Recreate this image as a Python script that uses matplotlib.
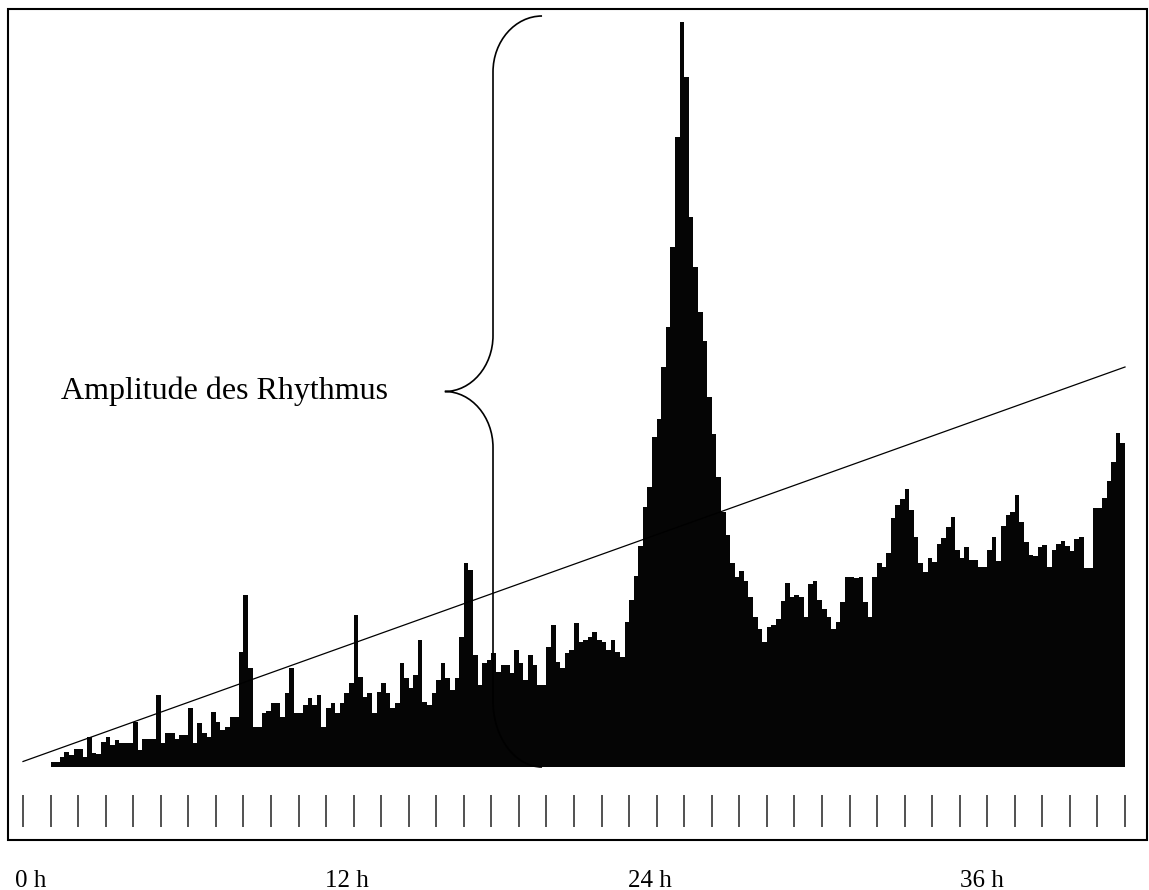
import numpy as np
import matplotlib
matplotlib.use("Agg")
import matplotlib.pyplot as plt
from matplotlib.path import Path
from matplotlib.patches import PathPatch, Rectangle

plt.rcParams['font.family'] = ['Liberation Serif', 'DejaVu Serif']

# Aktivität in 10-Minuten-Intervallen, beginnend bei 1 h
t_start = 1.0
bin_h = 1 / 6
amp = [
    5, 5, 10, 15, 12, 18, 18, 10, 30, 14,
    13, 25, 30, 22, 27, 24, 24, 24, 45, 17,
    28, 28, 28, 72, 24, 34, 34, 28, 32, 32,
    59, 24, 44, 34, 30, 55, 45, 37, 40, 50,
    50, 115, 172, 99, 40, 40, 54, 56, 64, 64,
    50, 74, 99, 54, 54, 62, 69, 62, 72, 40,
    59, 64, 54, 64, 74, 84, 152, 90, 70, 74,
    54, 75, 84, 74, 59, 64, 104, 89, 79, 92,
    127, 65, 62, 74, 87, 104, 89, 77, 89, 130,
    204, 197, 112, 82, 104, 107, 114, 95, 102, 102,
    94, 117, 104, 87, 112, 102, 82, 82, 120, 142,
    105, 99, 114, 117, 144, 125, 127, 130, 135, 127,
    125, 117, 127, 115, 110, 145, 167, 191, 221, 260,
    280, 330, 348, 400, 440, 520, 630, 745, 690, 550,
    500, 455, 426, 370, 333, 290, 255, 232, 204, 190,
    196, 186, 170, 150, 138, 125, 140, 142, 148, 166,
    184, 170, 172, 170, 150, 183, 186, 167, 158, 150,
    138, 145, 165, 190, 190, 189, 190, 165, 150, 190,
    204, 200, 214, 249, 262, 268, 278, 257, 230, 204,
    195, 209, 205, 223, 229, 240, 250, 217, 209, 220,
    207, 207, 200, 200, 217, 230, 206, 241, 252, 255,
    272, 245, 225, 212, 211, 220, 222, 200, 217, 223,
    226, 221, 216, 228, 230, 199, 199, 259, 259, 269,
    286, 305, 334, 324,
]

# Trendlinie (Anfang bei 0 h, Ende bei 40 h)
trend_h = [0, 40]
trend_v = [5.5, 400]

tick_hours = list(range(0, 41))
hour_labels = ['0 h', '12 h', '24 h', '36 h']
label_px = [15, 325, 628, 960]

W, H = 1149, 890
px_per_h = 27.55
x0 = 23
base = 767

fig = plt.figure(figsize=(W / 100, H / 100), dpi=100)
ax = fig.add_axes([0, 0, 1, 1])
ax.set_xlim(-x0 / px_per_h, (W - x0) / px_per_h)
ax.set_ylim(base - H, base)
ax.axis('off')

# Rahmen
ax.add_patch(Rectangle((8 / W, 1 - 840 / H), (1147 - 8) / W, (840 - 9) / H,
                       transform=ax.transAxes, fill=False, lw=1.5, ec='black'))

# Histogramm als geschlossene Treppenfläche
edges = t_start + np.arange(len(amp) + 1) * bin_h
ax.stairs(amp, edges, fill=True, color='#050505', lw=0)

# Trendlinie
ax.plot(trend_h, trend_v, color='black', lw=0.9)

# Stundenstriche
ax.vlines(tick_hours, -60, -28, color='#222222', lw=1.1)

# geschweifte Klammer von der Basislinie bis zur Spitze
bx = 17.06
top = max(amp) + 6
bot = 0
mid = (top + bot) / 2
dx_end = 1.78
dx_tip = 1.75
ry = 56
ry_bot = 66
k = 0.55
verts = [
    (bx + dx_end, top),
    (bx + dx_end - k * dx_end, top), (bx, top - ry + k * ry), (bx, top - ry),
    (bx, mid + ry),
    (bx, mid + ry - k * ry), (bx - dx_tip + k * dx_tip, mid), (bx - dx_tip, mid),
    (bx - dx_tip + k * dx_tip, mid), (bx, mid - ry + k * ry), (bx, mid - ry),
    (bx, bot + ry_bot),
    (bx, bot + ry_bot - k * ry_bot), (bx + dx_end - k * dx_end, bot), (bx + dx_end, bot),
]
codes = [Path.MOVETO,
         Path.CURVE4, Path.CURVE4, Path.CURVE4,
         Path.LINETO,
         Path.CURVE4, Path.CURVE4, Path.CURVE4,
         Path.CURVE4, Path.CURVE4, Path.CURVE4,
         Path.LINETO,
         Path.CURVE4, Path.CURVE4, Path.CURVE4]
ax.add_patch(PathPatch(Path(verts, codes), fill=False, lw=1.2, ec='black'))

ax.text(bx - dx_tip - 2.07, mid, 'Amplitude des Rhythmus', ha='right', va='center',
        fontsize=23, color='black')

for lab, px in zip(hour_labels, label_px):
    fig.text(px / W, 1 - 887 / H, lab, ha='left', va='baseline', fontsize=18)

fig.savefig('out.png', dpi=100, facecolor='white')
